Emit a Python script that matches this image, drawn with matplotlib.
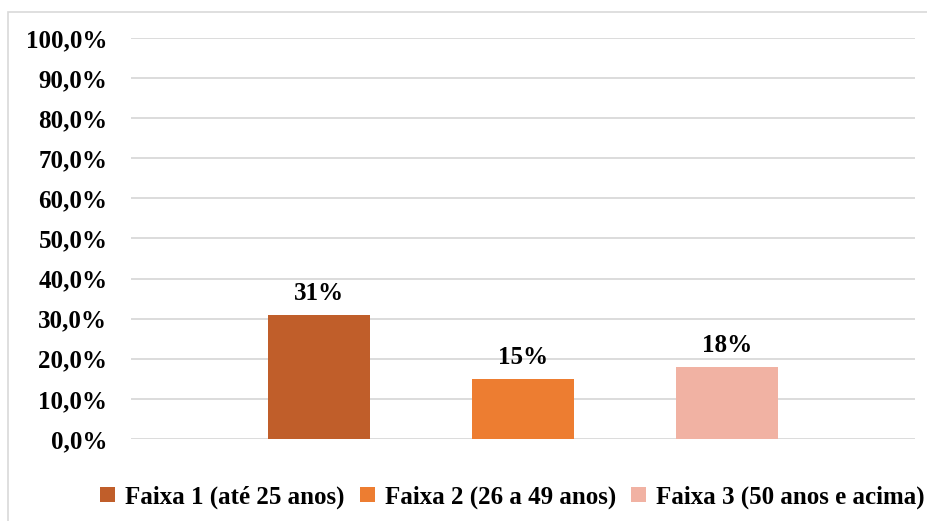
import matplotlib
matplotlib.use('Agg')
import matplotlib.pyplot as plt
from matplotlib.patches import Rectangle, Patch

# data
series = ['Faixa 1 (até 25 anos)', 'Faixa 2 (26 a 49 anos)', 'Faixa 3 (50 anos e acima)']
values = [31, 15, 18]
labels = ['31%', '15%', '18%']
colors = ['#C05E2A', '#ED7D31', '#F1B2A3']
yticks = [0, 10, 20, 30, 40, 50, 60, 70, 80, 90, 100]

plt.rcParams['font.family'] = ['Liberation Serif', 'DejaVu Serif']
plt.rcParams['font.weight'] = 'bold'
FS = 18

fig = plt.figure(figsize=(9.28, 5.21), dpi=100)
ax = fig.add_axes([131/928, 1 - 439/521, (915 - 131)/928, (439 - 38)/521])

# outer chart border (cut off right/bottom like the source)
fig.patches.append(Rectangle((8/928, -0.01), 1.0, 1 - 12/521 + 0.01,
                             transform=fig.transFigure, fill=False,
                             edgecolor='#D9D9D9', linewidth=1.2))

xpos = [-1, 0, 1]
for x, v, lab, c in zip(xpos, values, labels, colors):
    ax.bar(x, v, width=0.5, color=c, zorder=3)
    ax.annotate(lab, (x, v), textcoords='offset points', xytext=(0, 7),
                ha='center', va='bottom', fontsize=FS, fontweight='bold')

ax.set_xlim(-1.92, 1.92)
ax.set_ylim(0, 100)
ax.set_yticks(yticks)
ax.set_yticklabels([f'{t},0%' for t in yticks], fontsize=FS, fontweight='bold')
ax.set_xticks([])
ax.tick_params(axis='y', length=0, pad=17)
ax.grid(axis='y', color='#D9D9D9', linewidth=1.3, zorder=0)
for s in ax.spines.values():
    s.set_visible(False)

handles = [Patch(facecolor=c, edgecolor='none') for c in colors]
fig.legend(handles, series, loc='center', bbox_to_anchor=(0.552, 1 - 497/521),
           ncol=3, frameon=False, handlelength=0.6, borderpad=0,
           handleheight=0.6, handletextpad=0.4, columnspacing=0.6,
           prop={'weight': 'bold', 'size': FS})

fig.savefig('out.png', dpi=100)
